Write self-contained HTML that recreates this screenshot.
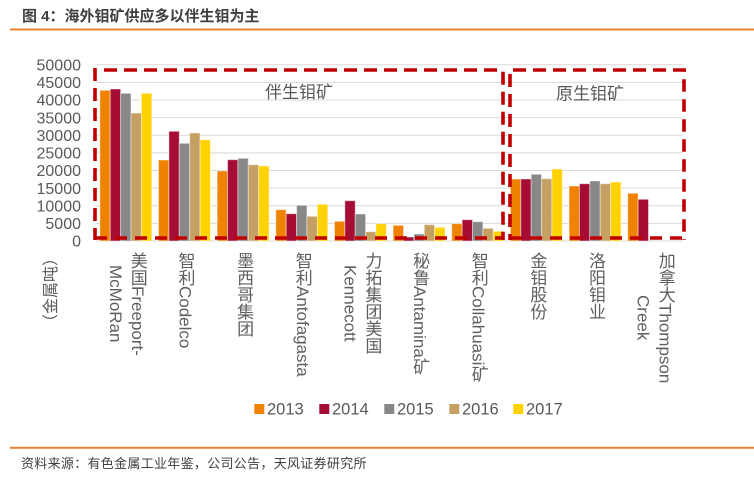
<!DOCTYPE html>
<html>
<head>
<meta charset="utf-8">
<style>
  html,body{margin:0;padding:0;background:#fff;}
  body{width:754px;height:479px;position:relative;overflow:hidden;
       font-family:"Liberation Sans","Noto Sans CJK SC",sans-serif;}
  svg{position:absolute;left:0;top:0;}
  .xl{position:absolute;top:252px;transform:translateX(-50%);
      writing-mode:vertical-rl;text-align:center;line-height:22px;
      white-space:nowrap;font-size:17px;color:#5f5f5f;
      font-family:"Liberation Sans","Noto Sans CJK SC",sans-serif;}
</style>
</head>
<body>
<svg width="754" height="479" viewBox="0 0 754 479" xmlns="http://www.w3.org/2000/svg">
  <!-- title -->
  <text x="22" y="21" font-family="Liberation Sans, Noto Sans CJK SC, sans-serif" font-size="15" font-weight="bold" fill="#3f3f3f">图 4：海外钼矿供应多以伴生钼为主</text>
  <rect x="10" y="28.5" width="744" height="2" fill="#ee8130"/>

  <!-- gridlines -->
  <g stroke="#d9d9d9" stroke-width="1">
    <line x1="96" y1="64.7" x2="683" y2="64.7"/>
    <line x1="96" y1="82.33" x2="683" y2="82.33"/>
    <line x1="96" y1="99.96" x2="683" y2="99.96"/>
    <line x1="96" y1="117.59" x2="683" y2="117.59"/>
    <line x1="96" y1="135.22" x2="683" y2="135.22"/>
    <line x1="96" y1="152.85" x2="683" y2="152.85"/>
    <line x1="96" y1="170.48" x2="683" y2="170.48"/>
    <line x1="96" y1="188.11" x2="683" y2="188.11"/>
    <line x1="96" y1="205.74" x2="683" y2="205.74"/>
    <line x1="96" y1="223.37" x2="683" y2="223.37"/>
    <line x1="96" y1="241" x2="683" y2="241"/>
  </g>

  <!-- y tick labels -->
  <g font-family="Liberation Sans, sans-serif" font-size="16" fill="#595959" text-anchor="end">
    <text x="81" y="70.4">50000</text>
    <text x="81" y="88">45000</text>
    <text x="81" y="105.7">40000</text>
    <text x="81" y="123.3">35000</text>
    <text x="81" y="140.9">30000</text>
    <text x="81" y="158.6">25000</text>
    <text x="81" y="176.2">20000</text>
    <text x="81" y="193.8">15000</text>
    <text x="81" y="211.4">10000</text>
    <text x="81" y="229.1">5000</text>
    <text x="81" y="246.7">0</text>
  </g>

  <!-- y axis title -->
  <text transform="translate(56,290) rotate(-90)" text-anchor="middle" font-family="Liberation Sans, Noto Sans CJK SC, sans-serif" font-size="16" fill="#595959">（金属吨）</text>

  <!-- bars -->
  <g stroke="#ffffff" stroke-opacity="0.45" stroke-width="1">
    <!-- 2013 -->
    <g fill="#ef8200">
      <rect x="99.87" y="90.3" width="10.38" height="150.7"/>
      <rect x="158.52" y="160" width="10.38" height="81"/>
      <rect x="217.17" y="171" width="10.38" height="70"/>
      <rect x="275.82" y="209.7" width="10.38" height="31.3"/>
      <rect x="334.47" y="221.3" width="10.38" height="19.7"/>
      <rect x="393.12" y="225.3" width="10.38" height="15.7"/>
      <rect x="451.77" y="223.7" width="10.38" height="17.3"/>
      <rect x="510.42" y="179" width="10.38" height="62"/>
      <rect x="569.07" y="186" width="10.38" height="55"/>
      <rect x="627.72" y="193.3" width="10.38" height="47.7"/>
    </g>
    <!-- 2014 -->
    <g fill="#a50d35">
      <rect x="110.25" y="89" width="10.38" height="152"/>
      <rect x="168.9" y="131.3" width="10.38" height="109.7"/>
      <rect x="227.55" y="159.7" width="10.38" height="81.3"/>
      <rect x="286.2" y="213.7" width="10.38" height="27.3"/>
      <rect x="344.85" y="200.7" width="10.38" height="40.3"/>
      <rect x="403.5" y="237" width="10.38" height="4"/>
      <rect x="462.15" y="219.7" width="10.38" height="21.3"/>
      <rect x="520.8" y="179" width="10.38" height="62"/>
      <rect x="579.45" y="183.7" width="10.38" height="57.3"/>
      <rect x="638.1" y="199.3" width="10.38" height="41.7"/>
    </g>
    <!-- 2015 -->
    <g fill="#888888">
      <rect x="120.63" y="93.3" width="10.38" height="147.7"/>
      <rect x="179.28" y="143.3" width="10.38" height="97.7"/>
      <rect x="237.93" y="158.3" width="10.38" height="82.7"/>
      <rect x="296.58" y="205.3" width="10.38" height="35.7"/>
      <rect x="355.23" y="214" width="10.38" height="27"/>
      <rect x="413.88" y="234" width="10.38" height="7"/>
      <rect x="472.53" y="221.7" width="10.38" height="19.3"/>
      <rect x="531.18" y="174.3" width="10.38" height="66.7"/>
      <rect x="589.83" y="181" width="10.38" height="60"/>
    </g>
    <!-- 2016 -->
    <g fill="#c6a063">
      <rect x="131.01" y="113" width="10.38" height="128"/>
      <rect x="189.66" y="133" width="10.38" height="108"/>
      <rect x="248.31" y="164.7" width="10.38" height="76.3"/>
      <rect x="306.96" y="216.3" width="10.38" height="24.7"/>
      <rect x="365.61" y="231.7" width="10.38" height="9.3"/>
      <rect x="424.26" y="224.7" width="10.38" height="16.3"/>
      <rect x="482.91" y="228.3" width="10.38" height="12.7"/>
      <rect x="541.56" y="178.7" width="10.38" height="62.3"/>
      <rect x="600.21" y="183.7" width="10.38" height="57.3"/>
    </g>
    <!-- 2017 -->
    <g fill="#ffd200">
      <rect x="141.39" y="93.3" width="10.38" height="147.7"/>
      <rect x="200.04" y="139.7" width="10.38" height="101.3"/>
      <rect x="258.69" y="166" width="10.38" height="75"/>
      <rect x="317.34" y="204.3" width="10.38" height="36.7"/>
      <rect x="375.99" y="223.7" width="10.38" height="17.3"/>
      <rect x="434.64" y="227.3" width="10.38" height="13.7"/>
      <rect x="493.29" y="231.3" width="10.38" height="9.7"/>
      <rect x="551.94" y="169" width="10.38" height="72"/>
      <rect x="610.59" y="182" width="10.38" height="59"/>
    </g>
  </g>

  <!-- dashed boxes -->
  <g stroke="#c00000" stroke-width="3.6" fill="none">
    <!-- box 1 -->
    <line x1="95" y1="68" x2="95" y2="240" stroke-dasharray="13 7"/>
    <line x1="104" y1="70" x2="500" y2="70" stroke-dasharray="13 7"/>
    <line x1="503" y1="71.7" x2="503" y2="240" stroke-dasharray="13 7"/>
    <line x1="95" y1="238" x2="503" y2="238" stroke-dasharray="12 8"/>
    <!-- box 2 -->
    <line x1="510" y1="74" x2="510" y2="240" stroke-dasharray="13 7"/>
    <line x1="513" y1="70" x2="686" y2="70" stroke-dasharray="13 7"/>
    <line x1="684" y1="70" x2="684" y2="240" stroke-dasharray="12.4 7.6" stroke-dashoffset="10.7"/>
    <line x1="510" y1="238" x2="684" y2="238" stroke-dasharray="12 8"/>
  </g>

  <!-- box labels -->
  <g font-family="Liberation Sans, Noto Sans CJK SC, sans-serif" font-size="17" fill="#595959">
    <text x="265" y="98">伴生钼矿</text>
    <text x="556" y="99.5">原生钼矿</text>
  </g>

  <!-- legend -->
  <g font-family="Liberation Sans, sans-serif" font-size="16.5" fill="#595959">
    <rect x="254.3" y="404" width="10" height="10" fill="#ef8200"/>
    <text x="267" y="414.3">2013</text>
    <rect x="319.3" y="404" width="10" height="10" fill="#a50d35"/>
    <text x="332" y="414.3">2014</text>
    <rect x="384.3" y="404" width="10" height="10" fill="#888888"/>
    <text x="397" y="414.3">2015</text>
    <rect x="449.3" y="404" width="10" height="10" fill="#c6a063"/>
    <text x="462" y="414.3">2016</text>
    <rect x="513.3" y="404" width="10" height="10" fill="#ffd200"/>
    <text x="526" y="414.3">2017</text>
  </g>

  <!-- footer -->
  <rect x="10" y="446.8" width="744" height="2" fill="#ee8130"/>
  <text x="21" y="468" font-family="Liberation Sans, Noto Sans CJK SC, sans-serif" font-size="13" fill="#404040" letter-spacing="0.3">资料来源：有色金属工业年鉴，公司公告，天风证券研究所</text>
</svg>

<div class="xl" style="left:125.8px">美国Freeport-<br>McMoRan</div>
<div class="xl" style="left:184.5px">智利Codelco</div>
<div class="xl" style="left:243.1px">墨西哥集团</div>
<div class="xl" style="left:301.8px">智利Antofagasta</div>
<div class="xl" style="left:360.4px">力拓集团美国<br>Kennecott</div>
<div class="xl" style="left:419.1px">秘鲁Antamina矿</div>
<div class="xl" style="left:477.7px">智利Collahuasi矿</div>
<div class="xl" style="left:536.4px">金钼股份</div>
<div class="xl" style="left:595px">洛阳钼业</div>
<div class="xl" style="left:653.7px">加拿大Thompson<br>Creek</div>
</body>
</html>
